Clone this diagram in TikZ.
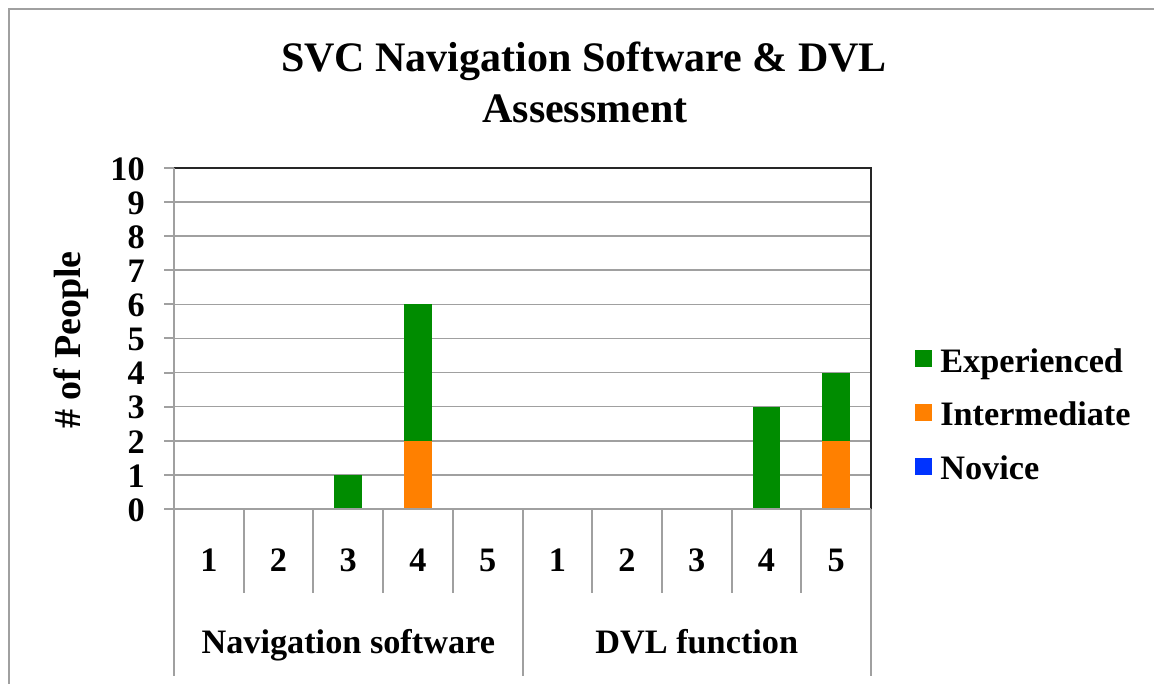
\documentclass[tikz,border=0pt]{standalone}
\usepackage{fontspec}
\setmainfont{Liberation Serif}
\definecolor{expcol}{RGB}{0,140,0}
\definecolor{intcol}{RGB}{255,128,0}
\definecolor{novcol}{RGB}{0,51,255}
\definecolor{linegray}{RGB}{160,160,160}
\tikzset{
  frameline/.style={draw=linegray, line width=1.6pt},
  gridline/.style={draw=linegray, line width=1.2pt},
  axisline/.style={draw=linegray, line width=1.5pt},
  plotborder/.style={draw=black!85, line width=1.5pt},
  lab/.style={font=\fontsize{25.7pt}{30pt}\selectfont\bfseries, inner sep=0pt},
  titlelab/.style={font=\fontsize{31.5pt}{38pt}\selectfont\bfseries, inner sep=0pt},
  ylab/.style={font=\fontsize{28.5pt}{34pt}\selectfont\bfseries, inner sep=0pt},
}
\begin{document}
\begin{tikzpicture}[x=0.75pt,y=-0.75pt]
\useasboundingbox (0,0) rectangle (1154,684);
\fill[white] (0,0) rectangle (1154,684);
% outer frame (cut at right and bottom)
\draw[frameline] (9,690) |- (1160,9);
% gridlines
\foreach \v in {1,...,9} {
  \draw[gridline] (174,{509-34.1*\v}) -- (871,{509-34.1*\v});
}
% plot area border
\draw[plotborder] (174,168) -- (871,168) -- (871,509);
% bars
\foreach \c/\lo/\hi/\col in {3/0/1/expcol, 4/0/2/intcol, 4/2/6/expcol, 9/0/3/expcol, 10/0/2/intcol, 10/2/4/expcol} {
  \fill[\col] ({174+(\c-0.5)*69.7-13.9},{509-34.1*\lo}) rectangle ({174+(\c-0.5)*69.7+13.9},{509-34.1*\hi});
}
% y axis and ticks
\draw[axisline] (174,168) -- (174,676);
\foreach \v in {0,...,10} {
  \draw[axisline] (164,{509-34.1*\v}) -- (174,{509-34.1*\v});
  \node[lab, anchor=base east] (y\v) at (145,{509-34.1*\v+12.3}) {\v};
}
% x axis
\draw[axisline] (174,509) -- (871,509);
\foreach \k in {1,2,3,4,6,7,8,9} {
  \draw[axisline] ({174+69.7*\k},509) -- ({174+69.7*\k},593);
}
\draw[axisline] ({174+69.7*5},509) -- ({174+69.7*5},676);
\draw[axisline] (871,509) -- (871,676);
% category labels
\foreach \i/\n in {1/1,2/2,3/3,4/4,5/5,6/1,7/2,8/3,9/4,10/5} {
  \node[lab, anchor=base] (c\i) at ({174+(\i-0.5)*69.7},571) {\n};
}
\node[lab, anchor=base] (g1) at ({174+69.7*2.5},653) {Navigation software};
\node[lab, anchor=base] (g2) at ({174+69.7*7.5},653) {DVL function};
% axis title
\node[ylab, rotate=90, anchor=base] (ytitle) at (80,340) {\# of People};
% chart title
\node[titlelab, anchor=base] (t1) at (584,72) {SVC Navigation Software \& DVL};
\node[titlelab, anchor=base] (t2) at (585,123) {Assessment};
% legend
\foreach \y/\col/\txt/\nm in {359/expcol/Experienced/le, 412.5/intcol/Intermediate/li, 466/novcol/Novice/ln} {
  \fill[\col] (915,{\y-8.5}) rectangle (932,{\y+8.5});
  \node[lab, anchor=base west] (\nm) at (940,{\y+13.5}) {\txt};
}
\end{tikzpicture}
\end{document}
